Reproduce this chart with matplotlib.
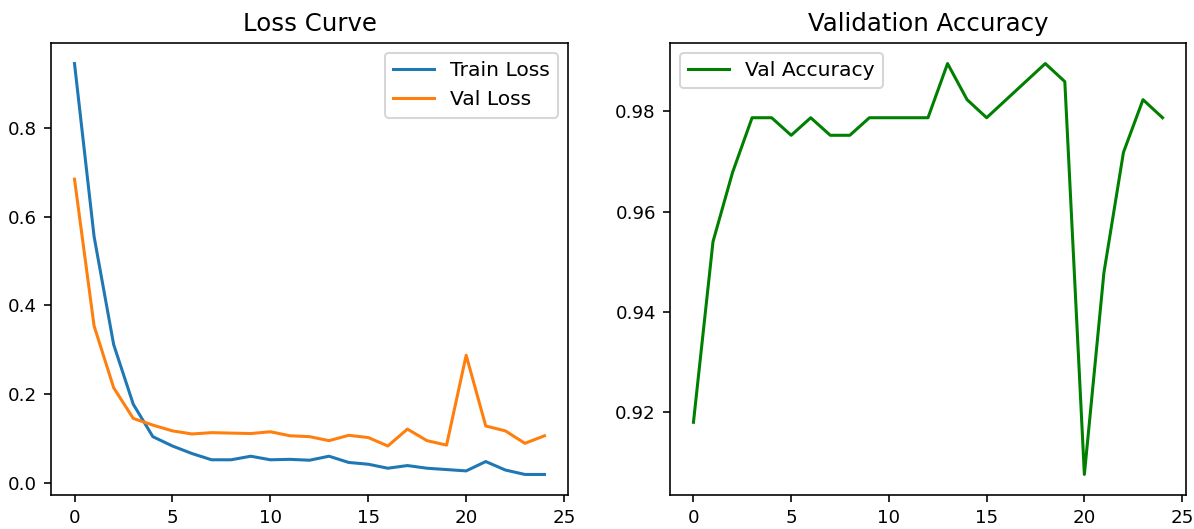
import matplotlib
matplotlib.use("Agg")
import matplotlib.pyplot as plt

epochs = list(range(25))
train_loss = [0.944, 0.555, 0.312, 0.178, 0.105, 0.084, 0.067, 0.053, 0.053, 0.061,
              0.053, 0.054, 0.052, 0.061, 0.047, 0.043, 0.034, 0.040, 0.034, 0.031,
              0.028, 0.049, 0.030, 0.020, 0.020]
val_loss = [0.684, 0.354, 0.215, 0.146, 0.131, 0.118, 0.111, 0.114, 0.113, 0.112,
            0.116, 0.107, 0.105, 0.096, 0.108, 0.103, 0.084, 0.122, 0.096, 0.086,
            0.288, 0.129, 0.118, 0.090, 0.107]
val_acc = [0.9180, 0.9540, 0.9678, 0.9787, 0.9787, 0.9752, 0.9787, 0.9752, 0.9752, 0.9787,
           0.9787, 0.9787, 0.9787, 0.9895, 0.9823, 0.9787, 0.9823, 0.9859, 0.9895, 0.9859,
           0.9076, 0.9478, 0.9718, 0.9823, 0.9787]

W, H = 1194, 529
DPI = 146
fig = plt.figure(figsize=(W / DPI, H / DPI), dpi=DPI)

def frac(x0, y0, x1, y1):
    return [x0 / W, 1 - y1 / H, (x1 - x0) / W, (y1 - y0) / H]

ax1 = fig.add_axes(frac(51, 43, 568, 495))
ax2 = fig.add_axes(frac(670, 43, 1186, 495))

ax1.plot(epochs, train_loss, label="Train Loss")
ax1.plot(epochs, val_loss, label="Val Loss")
ax1.set_title("Loss Curve", fontsize=12)
ax1.legend(loc="upper right", fontsize=10)

ax2.plot(epochs, val_acc, label="Val Accuracy", color="green")
ax2.set_title("Validation Accuracy", fontsize=12)
ax2.legend(loc="upper left", fontsize=10)

for ax in (ax1, ax2):
    ax.tick_params(labelsize=9)
    ax.set_xticks([0, 5, 10, 15, 20, 25])

fig.savefig("out.png", dpi=DPI)
